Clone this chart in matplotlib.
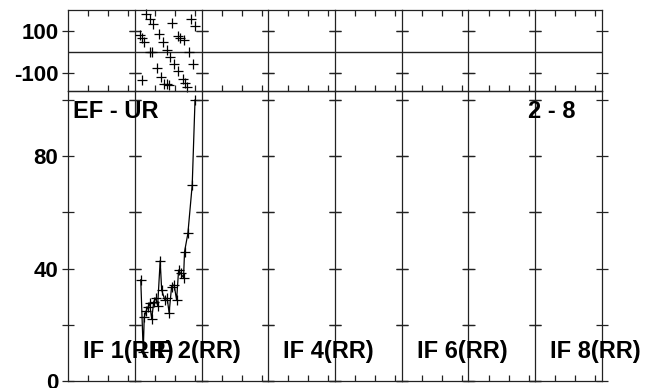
import matplotlib
matplotlib.use("Agg")
from matplotlib import pyplot as plt

plt.rcParams['font.family'] = ['Liberation Sans', 'DejaVu Sans']
plt.rcParams['font.weight'] = 'bold'
plt.rcParams['font.size'] = 16

# phase (deg) vs time, IF 2 panel
phase_t = [0.75, 1.04, 1.15, 1.42, 1.75, 2.28, 2.31, 2.61, 2.76, 3.39, 3.61,
           3.93, 4.18, 4.43, 4.78, 4.88, 5.12, 5.34, 5.63, 5.90, 6.42, 6.49,
           6.79, 7.16, 7.39, 7.46, 7.81, 8.10, 8.36, 8.78, 9.06]
phase = [82, 68, -135, 50, 180, 156, 0, 0, 134, -78, 87,
         -119, 49, -151, 11, -154, -156, -24, 140, -58, 76, -91,
         68, -128, 57, -145, -165, 0, 157, -59, 124]

# amplitude vs time, IF 2 panel
amp_t = [0.90, 1.27, 1.42, 1.72, 2.01, 2.24, 2.54, 2.84, 3.13, 3.43, 3.81,
         4.03, 4.48, 4.85, 5.15, 5.52, 5.90, 6.27, 6.57, 6.87, 7.31, 7.46,
         7.96, 8.61, 9.03]
amp = [36, 10.4, 22.7, 25, 26.5, 27.6, 22, 28.2, 29.5, 26.8, 42.8,
       32.4, 29, 29.5, 24.3, 33.6, 34.2, 28.8, 39.5, 38.3, 36.8, 46,
       52.5, 69.8, 100]

n_panels = 8
data_panel = 1
if_labels = {0: 'IF 1(RR)', 1: 'IF 2(RR)', 3: 'IF 4(RR)', 5: 'IF 6(RR)', 7: 'IF 8(RR)'}

W, H = 645, 388
fig = plt.figure(figsize=(W / 100, H / 100), dpi=100)

x0, x1 = 68, 602
pw = (x1 - x0) / n_panels
top_y0, top_y1 = 10, 91
bot_y0, bot_y1 = 91, 381

line_col = '#222222'
label_size = 17

for i in range(n_panels):
    left = (x0 + i * pw) / W
    ax_p = fig.add_axes([left, 1 - top_y1 / H, pw / W, (top_y1 - top_y0) / H])
    ax_a = fig.add_axes([left, 1 - bot_y1 / H, pw / W, (bot_y1 - bot_y0) / H])

    for ax in (ax_p, ax_a):
        ax.set_facecolor('none')
        ax.set_xlim(0, 10)
        ax.set_xticks([3, 6, 9])
        ax.set_xticklabels([])
        for s in ax.spines.values():
            s.set_linewidth(0.9)
            s.set_color(line_col)
        if i > 0:
            ax.spines['left'].set_visible(False)
        ax.tick_params(axis='y', direction='inout', length=8, width=0.9,
                       left=True, right=True, color=line_col, pad=3)
        ax.tick_params(axis='x', direction='in', length=4, width=0.9,
                       color=line_col)

    ax_p.set_ylim(-185, 200)
    ax_p.set_yticks([100, -100])
    ax_p.axhline(0, color=line_col, lw=1.0)
    ax_p.tick_params(axis='x', top=True, bottom=True)

    ax_a.set_ylim(0, 103.2)
    ax_a.set_yticks([0, 20, 40, 60, 80, 100])
    ax_a.tick_params(axis='x', top=False, bottom=True)

    if i == 0:
        ax_p.set_yticklabels(['100', '-100'])
        ax_a.set_yticklabels(['0', '', '40', '', '80', ''])
    else:
        ax_p.set_yticklabels([])
        ax_a.set_yticklabels([])

    if i == data_panel:
        ax_p.plot(phase_t, phase, '+', color='black', markersize=7, mew=0.9,
                  clip_on=False)
        ax_a.plot(amp_t, amp, '-', color='black', lw=0.9, marker='+',
                  markersize=7, mew=0.9, clip_on=False)

    if i in if_labels:
        fig.text((x0 + i * pw + 15) / W, 1 - 358 / H, if_labels[i],
                 ha='left', va='baseline', fontsize=label_size,
                 fontweight='bold', zorder=0)

fig.text(73 / W, 1 - 118 / H, 'EF - UR', ha='left', va='baseline',
         fontsize=label_size, fontweight='bold', zorder=0)
fig.text(528 / W, 1 - 118 / H, '2 - 8', ha='left', va='baseline',
         fontsize=label_size, fontweight='bold', zorder=0)

plt.savefig('out.png', dpi=100)
